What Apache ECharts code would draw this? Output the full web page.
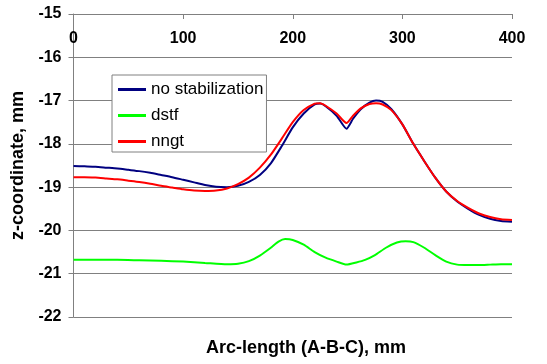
<!DOCTYPE html>
<html>
<head>
<meta charset="utf-8">
<script src="https://cdn.jsdelivr.net/npm/echarts@6/dist/echarts.min.js"></script>
<style>
  html, body { margin: 0; padding: 0; background: #fff; }
  #chart { width: 547px; height: 364px; }
</style>
</head>
<body>
<div id="chart"></div>
<script>
// Arc-length positions (mm) and z-coordinate profiles (mm) for each method
var arcNoStab = [0, 10, 20, 30, 40, 50, 60, 70, 80, 90, 100, 110, 120, 130, 140, 150, 160, 170, 180, 190, 200, 210, 220, 225, 230, 240, 249, 255, 262, 270, 276, 282, 290, 300, 310, 320, 330, 340, 350, 360, 370, 380, 390, 400];
var zNoStab   = [-18.51, -18.52, -18.53, -18.55, -18.57, -18.60, -18.63, -18.67, -18.72, -18.77, -18.83, -18.89, -18.95, -18.99, -19.00, -18.97, -18.88, -18.72, -18.45, -18.05, -17.62, -17.30, -17.09, -17.07, -17.13, -17.35, -17.65, -17.42, -17.20, -17.05, -17.00, -17.03, -17.20, -17.55, -18.00, -18.40, -18.78, -19.10, -19.33, -19.50, -19.64, -19.73, -19.78, -19.80];

var arcDstf = [0, 20, 40, 60, 80, 100, 120, 140, 150, 160, 170, 180, 187, 193, 200, 210, 220, 230, 240, 249, 258, 266, 275, 285, 295, 303, 310, 320, 330, 340, 350, 360, 370, 380, 390, 400];
var zDstf   = [-20.68, -20.68, -20.68, -20.69, -20.70, -20.72, -20.75, -20.78, -20.77, -20.71, -20.58, -20.40, -20.26, -20.20, -20.22, -20.33, -20.50, -20.63, -20.72, -20.79, -20.74, -20.68, -20.57, -20.40, -20.28, -20.25, -20.27, -20.40, -20.57, -20.72, -20.79, -20.80, -20.80, -20.79, -20.78, -20.78];

var arcNngt = [0, 10, 20, 30, 40, 50, 60, 70, 80, 90, 100, 110, 120, 130, 140, 150, 160, 170, 180, 190, 200, 210, 220, 225, 230, 240, 249, 255, 262, 270, 276, 282, 290, 300, 310, 320, 330, 340, 350, 360, 370, 380, 390, 400];
var zNngt   = [-18.77, -18.77, -18.78, -18.80, -18.82, -18.85, -18.88, -18.92, -18.97, -19.01, -19.05, -19.08, -19.09, -19.08, -19.03, -18.93, -18.78, -18.55, -18.25, -17.88, -17.50, -17.22, -17.07, -17.06, -17.12, -17.30, -17.52, -17.35, -17.18, -17.08, -17.06, -17.09, -17.22, -17.55, -18.00, -18.40, -18.78, -19.10, -19.32, -19.48, -19.61, -19.69, -19.74, -19.76];

var seriesNames = ['no stabilization', 'dstf', 'nngt'];
var seriesColors = ['#000080', '#00ff00', '#ff0000'];

var xTicks = { min: 0, max: 400, step: 100 };
var yTicks = { min: -22, max: -15, step: 1 };

function pairs(xs, ys) {
  return xs.map(function (x, i) { return [x, ys[i]]; });
}

var chart = echarts.init(document.getElementById('chart'), null, { renderer: 'canvas' });

var fontFamily = 'Arial, "Liberation Sans", sans-serif';
var labelFont = { fontFamily: fontFamily, fontWeight: 'bold', fontSize: 16, color: '#000' };

var data = [pairs(arcNoStab, zNoStab), pairs(arcDstf, zDstf), pairs(arcNngt, zNngt)];

chart.setOption({
  animation: false,
  backgroundColor: '#fff',
  grid: { left: 73.5, right: 35, top: 14, bottom: 47, containLabel: false },
  legend: {
    orient: 'vertical',
    left: 112,
    top: 75,
    data: seriesNames,
    backgroundColor: '#fff',
    borderColor: '#808080',
    borderWidth: 1,
    padding: [6, 3, 2, 6],
    itemWidth: 28,
    itemHeight: 3,
    itemGap: 9,
    icon: 'rect',
    textStyle: { fontFamily: fontFamily, fontSize: 17, color: '#000', lineHeight: 17 }
  },
  xAxis: {
    type: 'value',
    position: 'top',
    min: xTicks.min,
    max: xTicks.max,
    interval: xTicks.step,
    axisLine: { onZero: false, lineStyle: { color: '#808080', width: 1 } },
    axisTick: { inside: true, length: 5, lineStyle: { color: '#808080' } },
    axisLabel: Object.assign({ inside: true, margin: 17 }, labelFont),
    splitLine: { show: false }
  },
  yAxis: {
    type: 'value',
    min: yTicks.min,
    max: yTicks.max,
    interval: yTicks.step,
    name: 'z-coordinate, mm',
    nameLocation: 'middle',
    nameRotate: 90,
    nameGap: 39,
    nameTextStyle: { fontFamily: fontFamily, fontWeight: 'bold', fontSize: 18, color: '#000' },
    axisLine: { show: true, lineStyle: { color: '#808080', width: 1 } },
    axisTick: { show: true, inside: false, length: 5, lineStyle: { color: '#808080' } },
    axisLabel: Object.assign({ margin: 12 }, labelFont),
    splitLine: { show: true, lineStyle: { color: '#808080', width: 1 } }
  },
  graphic: [{
    type: 'text',
    x: 306,
    y: 348,
    style: {
      text: 'Arc-length (A-B-C), mm',
      font: 'bold 18px Arial, "Liberation Sans", sans-serif',
      fill: '#000',
      align: 'center',
      verticalAlign: 'middle'
    }
  }],
  series: seriesNames.map(function (name, i) {
    return {
      name: name,
      type: 'line',
      data: data[i],
      smooth: 0.2,
      symbol: 'none',
      lineStyle: { color: seriesColors[i], width: 2 },
      itemStyle: { color: seriesColors[i] }
    };
  })
});
</script>
</body>
</html>
